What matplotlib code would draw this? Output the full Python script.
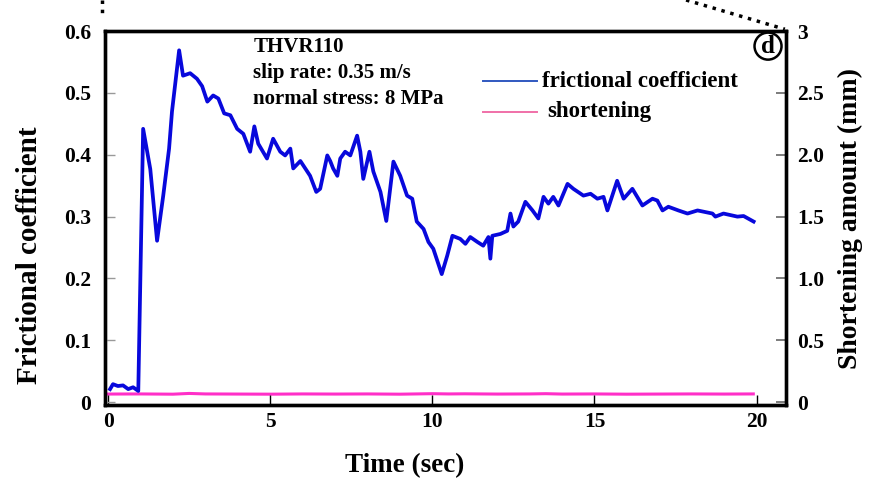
import numpy as np
import matplotlib.pyplot as plt
from matplotlib.lines import Line2D

plt.rcParams['font.family'] = ['Liberation Serif', 'DejaVu Serif']
plt.rcParams['font.weight'] = 'bold'
plt.rcParams['axes.labelweight'] = 'bold'

# frictional coefficient vs time (sec)
time_mu = [0.06, 0.15, 0.30, 0.46, 0.62, 0.77, 0.93, 1.08, 1.30, 1.51, 1.70, 1.88,
           1.97, 2.19, 2.31, 2.53, 2.74, 2.90, 3.06, 3.24, 3.40, 3.58, 3.77, 3.98,
           4.17, 4.38, 4.51, 4.63, 4.90, 5.09, 5.31, 5.46, 5.62, 5.71, 5.93, 6.08,
           6.23, 6.42, 6.54, 6.76, 6.85, 6.94, 7.07, 7.16, 7.31, 7.47, 7.68, 7.78,
           7.87, 8.06, 8.18, 8.40, 8.58, 8.80, 9.01, 9.22, 9.38, 9.52, 9.73, 9.88,
           10.03, 10.29, 10.46, 10.62, 10.86, 11.02, 11.17, 11.39, 11.57, 11.73,
           11.79, 11.85, 12.10, 12.31, 12.41, 12.50, 12.65, 12.87, 13.09, 13.27,
           13.43, 13.58, 13.73, 13.89, 14.17, 14.35, 14.66, 14.88, 15.09, 15.28,
           15.40, 15.70, 15.90, 16.17, 16.48, 16.79, 16.94, 17.10, 17.28, 17.59,
           17.87, 18.18, 18.64, 18.73, 18.98, 19.41, 19.60, 19.91]
mu = [0.021, 0.029, 0.026, 0.027, 0.021, 0.024, 0.018, 0.442, 0.377, 0.261, 0.334, 0.410,
      0.470, 0.569, 0.528, 0.532, 0.523, 0.511, 0.486, 0.496, 0.491, 0.467, 0.464, 0.442,
      0.434, 0.405, 0.446, 0.418, 0.394, 0.426, 0.405, 0.399, 0.410, 0.378, 0.390, 0.378,
      0.366, 0.340, 0.345, 0.399, 0.390, 0.378, 0.366, 0.394, 0.405, 0.399, 0.431, 0.405,
      0.361, 0.405, 0.373, 0.340, 0.293, 0.389, 0.366, 0.334, 0.329, 0.292, 0.280, 0.259,
      0.248, 0.207, 0.237, 0.269, 0.264, 0.256, 0.267, 0.259, 0.253, 0.267,
      0.232, 0.269, 0.272, 0.277, 0.305, 0.284, 0.292, 0.324, 0.310, 0.297,
      0.332, 0.321, 0.332, 0.318, 0.353, 0.345, 0.334, 0.337, 0.329, 0.332,
      0.310, 0.358, 0.329, 0.345, 0.318, 0.329, 0.326, 0.310, 0.316, 0.310,
      0.305, 0.310, 0.305, 0.300, 0.305, 0.300, 0.301, 0.292]

# shortening amount (mm) vs time (sec)
time_sh = [0.0, 1.0, 2.0, 2.5, 3.0, 4.0, 5.0, 6.0, 7.0, 8.0, 9.0, 10.0, 10.5, 11.0,
           12.0, 13.0, 13.5, 14.0, 15.0, 16.0, 17.0, 18.0, 19.0, 19.9]
shortening = [0.065, 0.066, 0.064, 0.070, 0.066, 0.065, 0.064, 0.066, 0.065, 0.066,
              0.064, 0.068, 0.066, 0.067, 0.065, 0.066, 0.068, 0.065, 0.066, 0.064,
              0.065, 0.066, 0.065, 0.066]

fig = plt.figure(figsize=(8.74, 4.87), dpi=100)
ax = fig.add_axes([0.120, 0.168, 0.779, 0.768])
ax2 = ax.twinx()

ax2.plot(time_sh, shortening, color='#ff2fc8', lw=2.2)
ax.plot(time_mu, mu, color='#0808dc', lw=2.7, solid_joinstyle='round')
ax.set_zorder(ax2.get_zorder() + 1)
ax.patch.set_visible(False)

ax.set_xlim(-0.1, 20.9)
ax.set_ylim(-0.005, 0.6)
ax2.set_ylim(-0.025, 3.0)

ax.set_xticks([0, 5, 10, 15, 20])
ax.set_yticks([0, 0.1, 0.2, 0.3, 0.4, 0.5, 0.6])
ax.set_yticklabels(['0', '0.1', '0.2', '0.3', '0.4', '0.5', '0.6'])
ax2.set_yticks([0, 0.5, 1.0, 1.5, 2.0, 2.5, 3.0])
ax2.set_yticklabels(['0', '0.5', '1.0', '1.5', '2.0', '2.5', '3'])

for a in (ax, ax2):
    for s in a.spines.values():
        s.set_linewidth(2.4)
ax.tick_params(axis='x', direction='in', labelsize=15.5, length=7, width=1, pad=5)
ax.tick_params(axis='y', direction='in', labelsize=15.5, length=7, width=1, pad=10,
               color='#999999')
ax2.tick_params(axis='y', direction='in', labelsize=15.5, length=7, width=1.2, pad=8,
                color='#666666')

ax.set_xlabel('Time (sec)', fontsize=19.5)
ax.xaxis.set_label_coords(0.44, -0.128)
ax.set_ylabel('Frictional coefficient', fontsize=21)
ax.yaxis.set_label_coords(-0.091, 0.40)
ax2.set_ylabel('Shortening amount (mm)', fontsize=20, labelpad=10)

ax.text(0.218, 0.985, 'THVR110\nslip rate: 0.35 m/s\nnormal stress: 8 MPa',
        transform=ax.transAxes, fontsize=15, va='top', ha='left', linespacing=1.4)

# hand-drawn style legend
ax.plot([0.555, 0.635], [0.866, 0.866], transform=ax.transAxes, color='#3058c0', lw=1.4)
ax.text(0.642, 0.866, 'frictional coefficient', transform=ax.transAxes,
        fontsize=16.5, va='center', ha='left')
ax.plot([0.555, 0.635], [0.785, 0.785], transform=ax.transAxes, color='#f070a8', lw=1.4)
ax.text(0.650, 0.785, 'shortening', transform=ax.transAxes,
        fontsize=16.5, va='center', ha='left')

ax.text(0.974, 0.96, 'd', transform=ax.transAxes, fontsize=18, ha='center', va='center',
        bbox=dict(boxstyle='circle,pad=0.08', fc='white', ec='black', lw=1.8))

# dotted connector lines from the parent figure
fig.add_artist(Line2D([0.117, 0.117], [1.0, 0.963], transform=fig.transFigure,
                      color='black', lw=2.5, ls=':'))
fig.add_artist(Line2D([0.785, 0.898], [1.0, 0.940], transform=fig.transFigure,
                      color='black', lw=2.5, ls=':'))

fig.savefig('out.png', dpi=100)
